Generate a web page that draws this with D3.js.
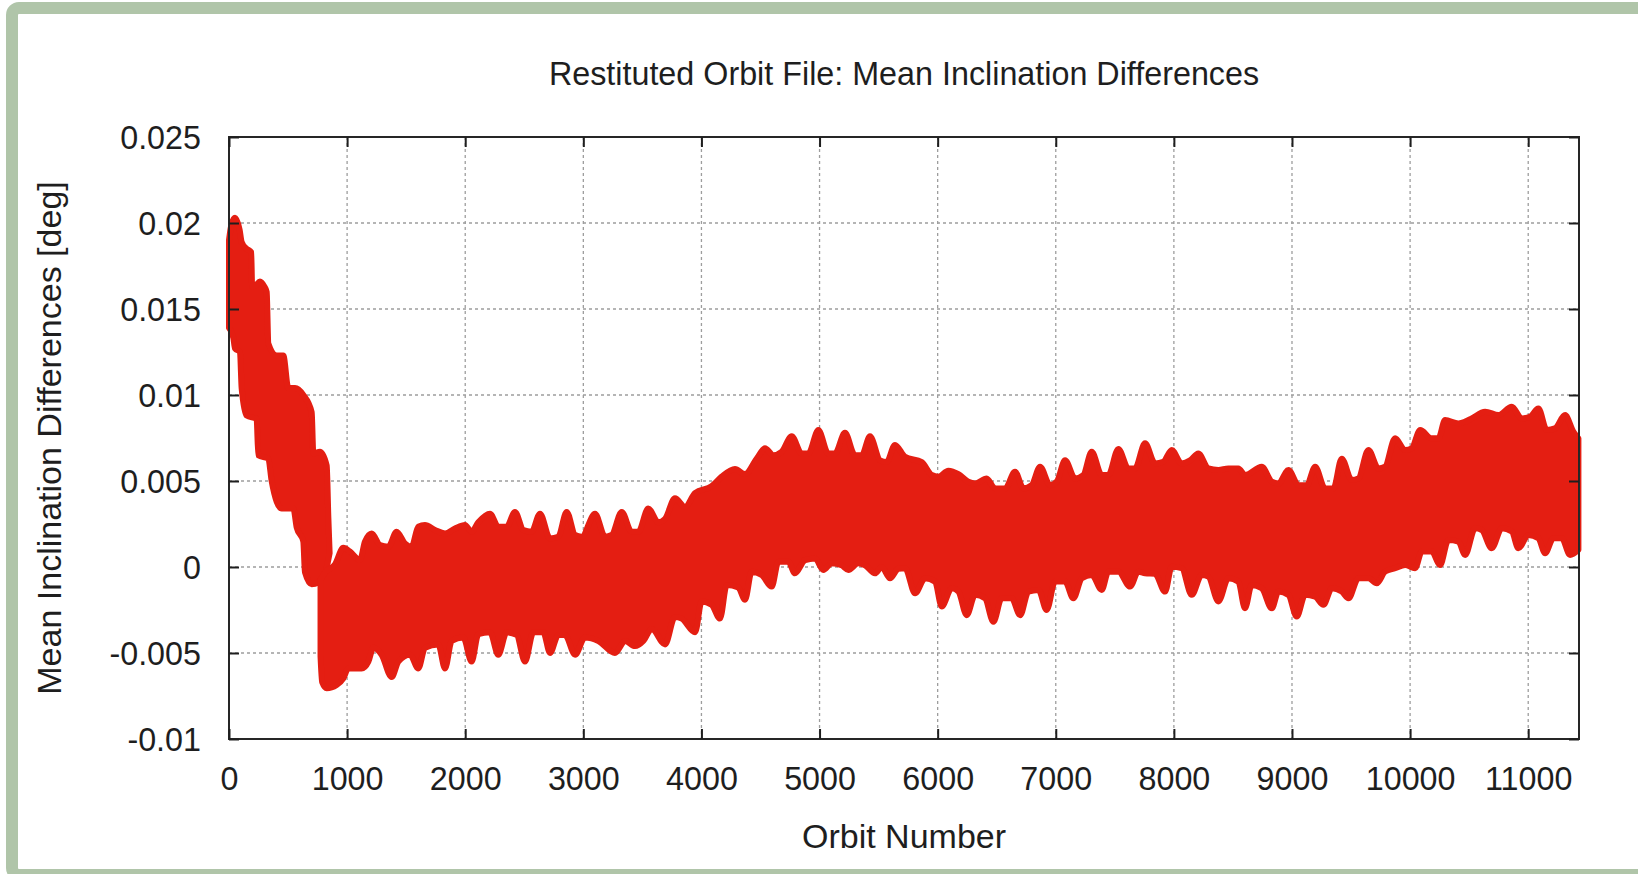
<!DOCTYPE html>
<html>
<head>
<meta charset="utf-8">
<script src="https://cdn.jsdelivr.net/npm/d3@7"></script>
<style>
  html, body { margin: 0; padding: 0; background: #ffffff; }
  svg { display: block; }
  text { font-family: "Liberation Sans", Arial, sans-serif; fill: #1e1e1e; }
</style>
</head>
<body>
<svg id="chart" width="1638" height="874"></svg>
<script>
// ---------------- data ----------------
const chartTitle = "Restituted Orbit File: Mean Inclination Differences";
const xTitle = "Orbit Number";
const yTitle = "Mean Inclination Differences [deg]";

const xTicks = [0, 1000, 2000, 3000, 4000, 5000, 6000, 7000, 8000, 9000, 10000, 11000];
const yTicks = [-0.01, -0.005, 0, 0.005, 0.01, 0.015, 0.02, 0.025];
const yTickLabels = ["-0.01", "-0.005", "0", "0.005", "0.01", "0.015", "0.02", "0.025"];
const xDomain = [0, 11430];
const yDomain = [-0.01, 0.025];

// early descending cloud (orbits 0 - ~850): upper edge, left to right
const earlyUpper = [
  [0, 0.0190], [20, 0.0199], [51, 0.0203], [90, 0.0196], [107, 0.0189], [150, 0.0185],
  [188, 0.0183], [196, 0.0163], [230, 0.0164], [262, 0.0166], [300, 0.0163], [319, 0.0160],
  [333, 0.0130], [404, 0.0123], [460, 0.0123], [502, 0.0104], [559, 0.0104], [629, 0.0100],
  [700, 0.0090], [714, 0.0066], [770, 0.0067], [827, 0.0059], [841, 0.0029], [852, 0.0008]
];
// early descending cloud: lower edge, right to left
const earlyLower = [
  [820, -0.0003], [780, -0.0007], [756, -0.0009], [700, -0.0010], [643, -0.0003], [629, 0.0015],
  [573, 0.0023], [545, 0.0034], [446, 0.0034], [361, 0.0050], [333, 0.0063], [248, 0.0065],
  [234, 0.0086], [150, 0.0088], [107, 0.0104], [93, 0.0125], [51, 0.0127], [37, 0.0133], [0, 0.0139]
];

// main oscillating band (orbits ~770 - 11430): upper edge, left to right
const mainUpper = [
  [775, -0.00076], [813, -0.00032], [897, 0.00015], [968, 0.00112], [1024, 0.0009], [1109, 0.0004],
  [1151, 0.00147], [1208, 0.00195], [1278, 0.00128], [1349, 0.00118], [1419, 0.00205], [1490, 0.00137],
  [1546, 0.00118], [1603, 0.00234], [1659, 0.00244], [1744, 0.00215], [1829, 0.00195], [1913, 0.00224],
  [1998, 0.00244], [2054, 0.00205], [2111, 0.0026], [2210, 0.0031], [2280, 0.00234], [2351, 0.00234],
  [2421, 0.0032], [2492, 0.00215], [2562, 0.00205], [2633, 0.0031], [2718, 0.00166], [2788, 0.00176],
  [2859, 0.0032], [2930, 0.00186], [2986, 0.00176], [3099, 0.0031], [3184, 0.00176], [3240, 0.00186],
  [3325, 0.0032], [3409, 0.00205], [3466, 0.00205], [3550, 0.0034], [3635, 0.0026], [3692, 0.0028],
  [3776, 0.0040], [3861, 0.0035], [3946, 0.0043], [4086, 0.0047], [4171, 0.00525], [4284, 0.0057],
  [4369, 0.0054], [4468, 0.0063], [4538, 0.0069], [4609, 0.0065], [4679, 0.0067], [4764, 0.0076],
  [4849, 0.0066], [4905, 0.0066], [4990, 0.00796], [5074, 0.0066], [5131, 0.0066], [5215, 0.0078],
  [5300, 0.0065], [5357, 0.0065], [5427, 0.0076], [5512, 0.0062], [5568, 0.0061], [5639, 0.0071],
  [5724, 0.0064], [5865, 0.0061], [5950, 0.00535], [6006, 0.00525], [6091, 0.0056], [6176, 0.0054],
  [6260, 0.00496], [6317, 0.00486], [6415, 0.00515], [6486, 0.00457], [6571, 0.00457], [6655, 0.00554],
  [6726, 0.00457], [6796, 0.00476], [6867, 0.00583], [6952, 0.00476], [7008, 0.00496], [7079, 0.0062],
  [7163, 0.00515], [7234, 0.00535], [7304, 0.0067], [7389, 0.00535], [7445, 0.00535], [7530, 0.00686],
  [7615, 0.00573], [7671, 0.00573], [7756, 0.00719], [7841, 0.00602], [7911, 0.00612], [7982, 0.0068],
  [8066, 0.00602], [8137, 0.0062], [8207, 0.0066], [8292, 0.00573], [8377, 0.00564], [8461, 0.00573],
  [8546, 0.00573], [8603, 0.00535], [8744, 0.00583], [8829, 0.00496], [8885, 0.00486], [8970, 0.00564],
  [9055, 0.00476], [9125, 0.00476], [9196, 0.00583], [9280, 0.00457], [9351, 0.00457], [9421, 0.0063],
  [9506, 0.00506], [9562, 0.00515], [9647, 0.0068], [9732, 0.00573], [9788, 0.00583], [9873, 0.00748],
  [9958, 0.0068], [10014, 0.0069], [10085, 0.00796], [10183, 0.00748], [10240, 0.00748], [10296, 0.00854],
  [10409, 0.00835], [10466, 0.00845], [10522, 0.00864], [10635, 0.00903], [10748, 0.00883], [10861, 0.00932],
  [10945, 0.00864], [11016, 0.00874], [11086, 0.00922], [11157, 0.00796], [11227, 0.00806], [11312, 0.00883],
  [11383, 0.00786], [11425, 0.00748]
];
// main oscillating band: lower edge, left to right
const mainLower = [
  [775, -0.0052], [789, -0.0067], [827, -0.00705], [911, -0.00686], [968, -0.00647], [1010, -0.0059],
  [1123, -0.0059], [1180, -0.0055], [1222, -0.0047], [1292, -0.0051], [1377, -0.0064], [1434, -0.0055],
  [1532, -0.0051], [1603, -0.0059], [1659, -0.0047], [1772, -0.0045], [1829, -0.0059], [1885, -0.0043],
  [1984, -0.0041], [2054, -0.0055], [2111, -0.0039], [2210, -0.0038], [2280, -0.0051], [2351, -0.0038],
  [2435, -0.00395], [2506, -0.0055], [2577, -0.0038], [2661, -0.0038], [2718, -0.0050], [2788, -0.00395],
  [2845, -0.00395], [2930, -0.0051], [3014, -0.0041], [3127, -0.0043], [3268, -0.0050], [3353, -0.0043],
  [3438, -0.0046], [3508, -0.0043], [3579, -0.0036], [3692, -0.0045], [3776, -0.0029], [3833, -0.0030],
  [3946, -0.0038], [4002, -0.0020], [4086, -0.0022], [4157, -0.0030], [4214, -0.00104], [4313, -0.0012],
  [4369, -0.0019], [4425, -0.00027], [4510, -0.00046], [4595, -0.00114], [4651, 0.0003], [4736, 0.0003],
  [4792, -0.00037], [4877, 0.0004], [4961, 0.0005], [5032, -0.00017], [5103, 0.00022], [5187, 0.0001],
  [5244, -0.00017], [5328, 0.00022], [5385, 0.0001], [5469, -0.00037], [5526, 0.0000], [5597, -0.00066],
  [5667, -0.0001], [5724, -0.00007], [5809, -0.00153], [5893, -0.00066], [5978, -0.00085], [6034, -0.0023],
  [6119, -0.00124], [6176, -0.00143], [6246, -0.0028], [6317, -0.00162], [6401, -0.00182], [6472, -0.00318],
  [6542, -0.00182], [6627, -0.00182], [6698, -0.0028], [6768, -0.00143], [6853, -0.00133], [6923, -0.0025],
  [6994, -0.00085], [7079, -0.00085], [7149, -0.00182], [7220, -0.00066], [7304, -0.00046], [7389, -0.00133],
  [7445, -0.00027], [7530, -0.00027], [7629, -0.00114], [7699, -0.00027], [7756, -0.00037], [7840, -0.0004],
  [7925, -0.00143], [7982, 0.00002], [8066, -0.00007], [8151, -0.00162], [8236, -0.00046], [8292, -0.00056],
  [8377, -0.0020], [8461, -0.00066], [8546, -0.00085], [8602, -0.0024], [8659, -0.00104], [8744, -0.00124],
  [8829, -0.0024], [8885, -0.00143], [8970, -0.00162], [9040, -0.00288], [9111, -0.00162], [9196, -0.00172],
  [9266, -0.0022], [9337, -0.00124], [9421, -0.00143], [9478, -0.00182], [9562, -0.00066], [9647, -0.00066],
  [9718, -0.00095], [9788, -0.00027], [9873, -0.00007], [9958, 0.00012], [10042, -0.00007], [10099, 0.0009],
  [10183, 0.0009], [10254, 0.00012], [10324, 0.00157], [10409, 0.00148], [10466, 0.0007], [10550, 0.00225],
  [10607, 0.00215], [10691, 0.00109], [10776, 0.00225], [10861, 0.00206], [10917, 0.00109], [11002, 0.00186],
  [11086, 0.00167], [11143, 0.0008], [11213, 0.00167], [11284, 0.00167], [11354, 0.0007], [11425, 0.0010]
];

// ---------------- drawing ----------------
const W = 1638, H = 874;
const plot = { left: 229, right: 1579, top: 137, bottom: 739 };
const red = "#e41e12";
const fontSize = 34;
const narrow = 0.95; // horizontal compression of the original font rendering

const svg = d3.select("#chart");

// outer green frame (partly cut off on the right and bottom)
svg.append("rect")
  .attr("x", 12).attr("y", 8)
  .attr("width", W + 20).attr("height", H - 8 + 1)
  .attr("rx", 7).attr("ry", 7)
  .attr("fill", "none")
  .attr("stroke", "#b0c5a9")
  .attr("stroke-width", 12);

const x = d3.scaleLinear().domain(xDomain).range([plot.left, plot.right]);
const y = d3.scaleLinear().domain(yDomain).range([plot.bottom, plot.top]);

// grid
const grid = svg.append("g").attr("stroke", "#9d9d9d").attr("stroke-width", 1.3)
  .attr("stroke-dasharray", "3,3");
grid.selectAll("line.gx").data(xTicks.filter(d => d > xDomain[0] && d < xDomain[1]))
  .join("line").attr("class", "gx")
  .attr("x1", d => x(d)).attr("x2", d => x(d))
  .attr("y1", plot.top).attr("y2", plot.bottom);
grid.selectAll("line.gy").data(yTicks.filter(d => d > yDomain[0] + 1e-9 && d < yDomain[1] - 1e-9))
  .join("line").attr("class", "gy")
  .attr("y1", d => y(d)).attr("y2", d => y(d))
  .attr("x1", plot.left).attr("x2", plot.right);

// data clouds: closed outlines built from an upper and a lower edge
const edge = d3.line()
  .x(d => x(d[0])).y(d => y(d[1]))
  .curve(d3.curveMonotoneX);
function cloudPath(upperLR, lowerRL) {
  return edge(upperLR) + "L" + edge(lowerRL).slice(1) + "Z";
}
const clouds = [
  cloudPath(earlyUpper, earlyLower),
  cloudPath(mainUpper, mainLower.slice().reverse())
];

svg.append("g").selectAll("path").data(clouds).join("path")
  .attr("d", d => d)
  .attr("fill", red)
  .attr("stroke", red)
  .attr("stroke-width", 6)
  .attr("stroke-linejoin", "round");

// frame
svg.append("rect")
  .attr("x", plot.left).attr("y", plot.top)
  .attr("width", plot.right - plot.left).attr("height", plot.bottom - plot.top)
  .attr("fill", "none").attr("stroke", "#262626").attr("stroke-width", 2);

// axes (ticks inward, mirrored)
const tickLen = 10;
const axB = svg.append("g").attr("transform", `translate(0,${plot.bottom})`)
  .call(d3.axisBottom(x).tickValues(xTicks).tickSize(-tickLen).tickFormat(d3.format("d")));
const axT = svg.append("g").attr("transform", `translate(0,${plot.top})`)
  .call(d3.axisTop(x).tickValues(xTicks).tickSize(-tickLen).tickFormat(""));
const axL = svg.append("g").attr("transform", `translate(${plot.left},0)`)
  .call(d3.axisLeft(y).tickValues(yTicks).tickSize(-tickLen)
    .tickFormat((d, i) => yTickLabels[i]));
const axR = svg.append("g").attr("transform", `translate(${plot.right},0)`)
  .call(d3.axisRight(y).tickValues(yTicks).tickSize(-tickLen).tickFormat(""));

[axB, axT, axL, axR].forEach(g => {
  g.select(".domain").remove();
  g.selectAll(".tick line").attr("stroke", "#1e1e1e").attr("stroke-width", 2);
  g.selectAll(".tick text")
    .attr("font-family", "Liberation Sans, Arial, sans-serif")
    .attr("font-size", fontSize)
    .attr("fill", "#1e1e1e");
});
axB.selectAll(".tick text")
  .attr("x", null).attr("y", null).attr("dy", null)
  .attr("transform", `translate(0,51) scale(${narrow},1)`);
axL.selectAll(".tick text")
  .attr("x", null).attr("dy", "0.35em")
  .attr("transform", `translate(-28,0) scale(${narrow},1)`);

// titles
svg.append("text")
  .attr("transform", `translate(${(plot.left + plot.right) / 2},85) scale(${narrow},1)`)
  .attr("text-anchor", "middle").attr("font-size", fontSize)
  .text(chartTitle);

svg.append("text")
  .attr("x", (plot.left + plot.right) / 2).attr("y", 848)
  .attr("text-anchor", "middle").attr("font-size", fontSize)
  .text(xTitle);

svg.append("text")
  .attr("transform", `translate(61,${(plot.top + plot.bottom) / 2}) rotate(-90)`)
  .attr("text-anchor", "middle").attr("font-size", fontSize)
  .text(yTitle);
</script>
</body>
</html>
